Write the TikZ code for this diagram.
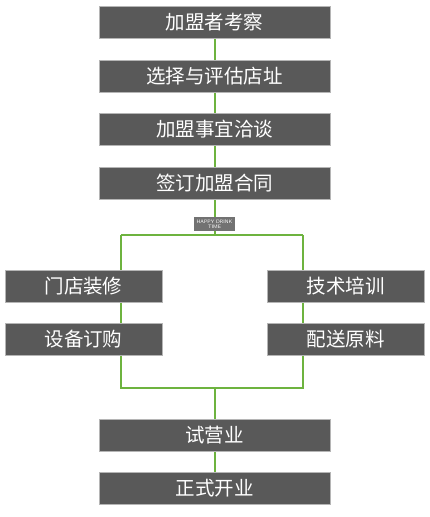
\documentclass[tikz,border=0pt]{standalone}
\usepackage{fontspec}
\newfontfamily\cjk{Noto Sans CJK SC}
\usepackage{tikz}
\usetikzlibrary{positioning,backgrounds}
\definecolor{boxgray}{HTML}{595959}
\definecolor{edgegray}{HTML}{B5B5B5}
\definecolor{linkgreen}{HTML}{6DB33F}

\begin{document}
\begin{tikzpicture}[
    node distance=21.5pt,
    box/.style={rectangle, draw=edgegray, line width=0.8pt, fill=boxgray, minimum width=231pt, minimum height=32pt, inner sep=0pt, outer sep=0pt, text=white, font=\cjk\fontsize{19.5}{20}\selectfont},
    sidebox/.style={box, minimum width=157pt},
    tag/.style={rectangle, fill=boxgray!85, minimum width=41pt, minimum height=14pt, inner sep=0pt, align=center, text=white, font=\sffamily\fontsize{5}{5.5}\selectfont},
    link/.style={linkgreen, line width=2pt}
]
\useasboundingbox (0,0) rectangle (430pt,-517pt);
\node[box] (kc) at (214.5pt,-22.5pt) {加盟者考察};
\node[box, below=of kc] (xz) {选择与评估店址};
\node[box, below=of xz] (sy) {加盟事宜洽谈};
\node[box, below=of sy] (qy) {签订加盟合同};
\node[tag, below=18pt of qy] (tag) {HAPPY DRINK\\TIME};
\coordinate (fork) at ([yshift=-36pt]qy.south);
\coordinate (lt) at ([xshift=-93.5pt]fork);
\coordinate (rt) at ([xshift=88.5pt]fork);
% two branches
\node[sidebox, below=71pt of qy, xshift=-131pt] (mz) {门店装修};
\node[sidebox, below=of mz] (sb) {设备订购};
\node[sidebox, below=71pt of qy, xshift=131pt] (js) {技术培训};
\node[sidebox, below=of js] (ps) {配送原料};
% joined again
\node[box, below=220pt of qy] (syy) {试营业};
\node[box, below=of syy] (zs) {正式开业};
\coordinate (join) at ([yshift=31pt]syy.north);
\begin{scope}[on background layer]
\draw[link] (kc) -- (xz) -- (sy) -- (qy) -- (fork);
\draw[link] (lt) -- (rt);
\draw[link] (lt) -- (lt |- join) -- (rt |- join) -- (rt);
\draw[link] (join) -- (syy) -- (zs);
\end{scope}
\end{tikzpicture}
\end{document}
